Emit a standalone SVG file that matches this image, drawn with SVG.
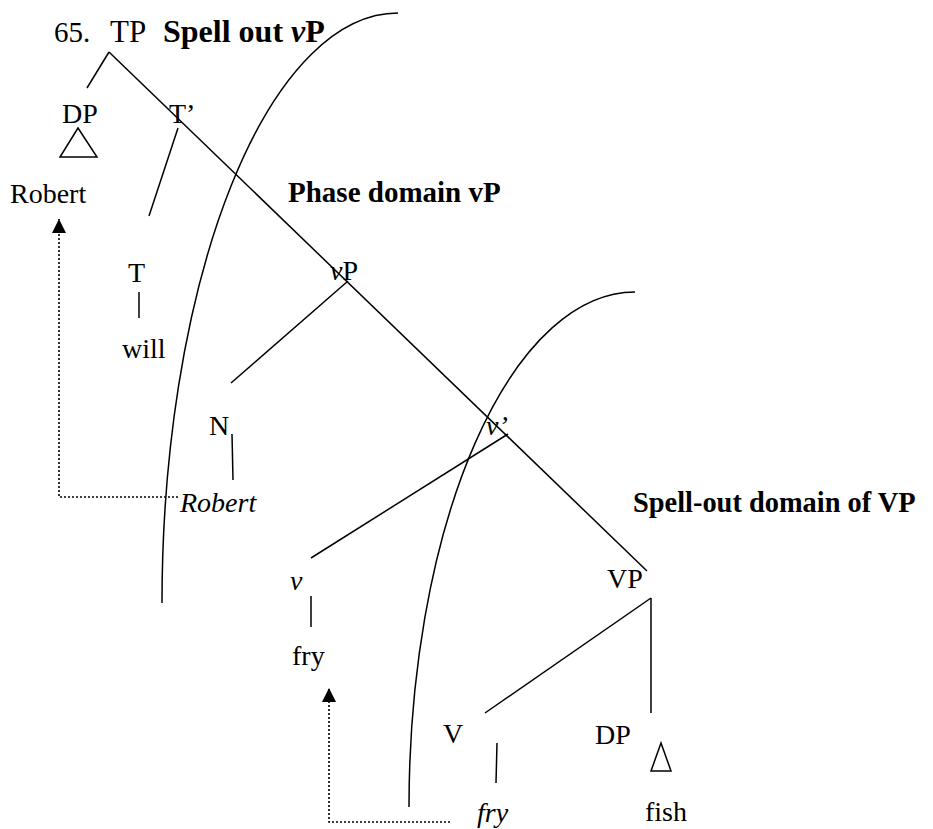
<svg xmlns="http://www.w3.org/2000/svg" width="933" height="829" viewBox="0 0 933 829">
<defs>
<style>
text{font-family:"Liberation Serif","Times New Roman",serif;font-size:28px;fill:#000}
.b{font-weight:bold}
.i{font-style:italic}
.hd{font-size:32px}
.ln{stroke:#000;stroke-width:1.5;fill:none}
.dot{stroke:#000;stroke-width:1.6;fill:none;stroke-dasharray:2,2}
.tri{stroke:#000;stroke-width:1.5;fill:none}
</style>
<marker id="ah" viewBox="0 0 10 10" refX="10" refY="5" markerWidth="15" markerHeight="14" markerUnits="userSpaceOnUse" orient="auto">
<path d="M0,0 L10,5 L0,10 Z" fill="#000"/>
</marker>
</defs>
<rect width="933" height="829" fill="#fff"/>

<g id="title">
<text x="54" y="42" style="font-size:29px">65.</text>
<text x="163" y="42" class="b hd">Spell out <tspan class="i">v</tspan>P</text>
</g>
<g id="labels">
<text x="288" y="202" class="b" style="font-size:29px">Phase domain vP</text>
<text x="633" y="512" class="b" style="font-size:28.4px">Spell-out domain of VP</text>
</g>

<g id="node-TP"><text x="110" y="42" style="font-size:31px">TP</text></g>
<g id="node-DP"><text x="62" y="123">DP</text>
<polygon class="tri" points="78,128 60,157 97,157"/></g>
<g id="node-Robert"><text x="10" y="203">Robert</text></g>
<g id="node-Tbar"><text x="169" y="123">T’</text></g>
<g id="node-T"><text x="128" y="282">T</text></g>
<g id="node-will"><text x="122" y="358">will</text></g>
<g id="node-vP"><text x="330" y="280"><tspan class="i">v</tspan>P</text></g>
<g id="node-N"><text x="209" y="435">N</text></g>
<g id="node-Robert-trace"><text x="180" y="512" class="i">Robert</text></g>
<g id="node-vbar"><text x="486" y="435" class="i">v’</text></g>
<g id="node-v"><text x="290" y="590" class="i">v</text></g>
<g id="node-fry"><text x="292" y="665">fry</text></g>
<g id="node-VP"><text x="607" y="588">VP</text></g>
<g id="node-V"><text x="443" y="743">V</text></g>
<g id="node-fry-trace"><text x="477" y="822" class="i">fry</text></g>
<g id="node-DP2"><text x="595" y="744">DP</text>
<polygon class="tri" points="661,743 651,771 671,771"/></g>
<g id="node-fish"><text x="645" y="821">fish</text></g>

<g id="connectors">
<line class="ln" x1="109" y1="52" x2="87" y2="88"/>
<line class="ln" x1="109" y1="52" x2="647" y2="571"/>
<line class="ln" x1="178" y1="128" x2="149" y2="216"/>
<line class="ln" x1="139" y1="292" x2="139" y2="318"/>
<line class="ln" x1="348" y1="281" x2="231" y2="383"/>
<line class="ln" x1="232" y1="434" x2="233" y2="480"/>
<line class="ln" x1="508" y1="434" x2="311" y2="558"/>
<line class="ln" x1="311" y1="596" x2="311" y2="627"/>
<line class="ln" x1="651" y1="598" x2="485" y2="713"/>
<line class="ln" x1="651" y1="598" x2="651" y2="713"/>
<line class="ln" x1="497" y1="743" x2="496" y2="783"/>
<path class="dot" d="M178,497 H59 V219" marker-end="url(#ah)"/>
<path class="dot" d="M450,822 H329 V688" marker-end="url(#ah)"/>
</g>
<g id="boundaries">
<path class="ln" d="M398,13 A236,590 0 0 0 162,603"/>
<path class="ln" d="M635,292 A226,515 0 0 0 409,807"/>
</g>
</svg>
